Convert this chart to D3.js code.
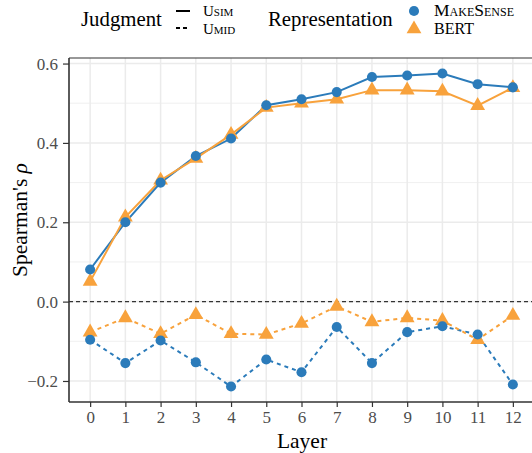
<!DOCTYPE html>
<html>
<head>
<meta charset="utf-8">
<script src="https://cdn.jsdelivr.net/npm/d3@7"></script>
<style>
  body { margin: 0; background: #fff; }
  svg { font-family: "Liberation Serif", "DejaVu Serif", serif; }
</style>
</head>
<body>
<svg id="chart" width="532" height="453"></svg>
<script>
// values
const layers = [0, 1, 2, 3, 4, 5, 6, 7, 8, 9, 10, 11, 12];
const usimMakeSense = [0.081, 0.200, 0.300, 0.367, 0.411, 0.495, 0.510, 0.528, 0.566, 0.570, 0.575, 0.548, 0.540];
const usimBert = [0.051, 0.213, 0.306, 0.361, 0.421, 0.489, 0.500, 0.510, 0.533, 0.533, 0.530, 0.494, 0.539];
const umidMakeSense = [-0.096, -0.155, -0.098, -0.153, -0.214, -0.146, -0.178, -0.064, -0.155, -0.077, -0.062, -0.083, -0.209];
const umidBert = [-0.077, -0.041, -0.081, -0.033, -0.081, -0.083, -0.055, -0.012, -0.051, -0.041, -0.048, -0.096, -0.035];
const yTicks = [-0.2, 0, 0.2, 0.4, 0.6];
const yMinor = [-0.1, 0.1, 0.3, 0.5];

const BLUE = "#2b7bba", ORANGE = "#f8a23c";
const series = [
  { values: usimMakeSense, color: BLUE, shape: "circle", dash: null },
  { values: usimBert, color: ORANGE, shape: "triangle", dash: null },
  { values: umidMakeSense, color: BLUE, shape: "circle", dash: "4,4" },
  { values: umidBert, color: ORANGE, shape: "triangle", dash: "4,4" }
];

const svg = d3.select("#chart");
const pL = 69, pR = 534, pT = 58, pB = 402;

const x = d3.scaleLinear().domain([-0.6, 12.6]).range([pL, pR]);
const y = d3.scaleLinear().domain([-0.253, 0.614]).range([pB, pT]);

// grid
const grid = svg.append("g");
grid.selectAll(".minor").data(yMinor).join("line")
  .attr("x1", pL).attr("x2", pR)
  .attr("y1", d => y(d)).attr("y2", d => y(d))
  .attr("stroke", "#ececec").attr("stroke-width", 0.8);
grid.selectAll(".major").data(yTicks).join("line")
  .attr("x1", pL).attr("x2", pR)
  .attr("y1", d => y(d)).attr("y2", d => y(d))
  .attr("stroke", "#ebebeb").attr("stroke-width", 1.5);
grid.selectAll(".vx").data(layers).join("line")
  .attr("x1", d => x(d)).attr("x2", d => x(d))
  .attr("y1", pT).attr("y2", pB)
  .attr("stroke", "#ebebeb").attr("stroke-width", 1.5);

// zero reference
svg.append("line")
  .attr("x1", pL).attr("x2", pR)
  .attr("y1", y(0)).attr("y2", y(0))
  .attr("stroke", "#333").attr("stroke-width", 1.1)
  .attr("stroke-dasharray", "4,3");

// lines
const line = d3.line().x((d, i) => x(layers[i])).y(d => y(d));
series.forEach(s => {
  svg.append("path")
    .attr("d", line(s.values))
    .attr("fill", "none")
    .attr("stroke", s.color)
    .attr("stroke-width", 2)
    .attr("stroke-dasharray", s.dash);
});

// points
const circ = d3.symbol().type(d3.symbolCircle).size(80);
const tri = d3.symbol().type(d3.symbolTriangle).size(95);
[series[1], series[3], series[0], series[2]].forEach(s => {
  svg.append("g").selectAll("path").data(s.values).join("path")
    .attr("transform", (d, i) => `translate(${x(layers[i])},${y(d)})`)
    .attr("d", s.shape === "circle" ? circ : tri)
    .attr("fill", s.color);
});

// panel border (top + left visible)
svg.append("line").attr("x1", pL).attr("x2", pR).attr("y1", pT).attr("y2", pT)
  .attr("stroke", "#333").attr("stroke-width", 1.2);

// axes
const yAxis = svg.append("g")
  .attr("transform", `translate(${pL},0)`)
  .call(d3.axisLeft(y).tickValues(yTicks).tickSize(6).tickPadding(5)
    .tickFormat(d => d3.format(".1f")(d).replace("-", "\u2212")));
const xAxis = svg.append("g")
  .attr("transform", `translate(0,${pB})`)
  .call(d3.axisBottom(x).tickValues(layers).tickSize(5).tickPadding(4));
[yAxis, xAxis].forEach(a => {
  a.select(".domain").attr("stroke", "#333").attr("stroke-width", 1.6);
  a.selectAll(".tick line").attr("stroke", "#333").attr("stroke-width", 1.2);
  a.selectAll(".tick text").attr("fill", "#4d4d4d")
    .style("font-family", "Liberation Serif").style("font-size", "17px");
});
yAxis.select(".domain").attr("d", `M0,${pT}V${pB}`);
xAxis.select(".domain").attr("d", `M${pL},0H${pR}`);

// axis titles
svg.append("text")
  .attr("x", 302).attr("y", 448)
  .attr("text-anchor", "middle")
  .style("font-size", "21.5px")
  .text("Layer");
const yt = svg.append("text")
  .attr("transform", `translate(27,220) rotate(-90)`)
  .attr("text-anchor", "middle")
  .style("font-size", "21.5px");
yt.append("tspan").text("Spearman's ");
yt.append("tspan").style("font-style", "italic").text("\u03c1");

// legend
const leg = svg.append("g");
leg.append("text").attr("x", 81).attr("y", 26).style("font-size", "20.8px").text("Judgment");
leg.append("line").attr("x1", 176).attr("x2", 190).attr("y1", 11).attr("y2", 11)
  .attr("stroke", "#000").attr("stroke-width", 2);
leg.append("line").attr("x1", 176).attr("x2", 190).attr("y1", 28).attr("y2", 28)
  .attr("stroke", "#000").attr("stroke-width", 2).attr("stroke-dasharray", "4,3");
leg.append("text").attr("x", 203).attr("y", 16).style("font-size", "15px")
  .style("font-variant", "small-caps").text("Usim");
leg.append("text").attr("x", 203).attr("y", 34).style("font-size", "15px")
  .style("font-variant", "small-caps").text("Umid");

leg.append("text").attr("x", 268).attr("y", 26).style("font-size", "20.8px").text("Representation");
leg.append("path").attr("transform", "translate(414,11)").attr("d", circ).attr("fill", BLUE);
leg.append("path").attr("transform", "translate(414,29)").attr("d", tri).attr("fill", ORANGE);
leg.append("text").attr("x", 434).attr("y", 16).style("font-size", "17.5px")
  .style("font-variant", "small-caps").text("MakeSense");
leg.append("text").attr("x", 434).attr("y", 34).style("font-size", "16px").text("BERT");
</script>
</body>
</html>
